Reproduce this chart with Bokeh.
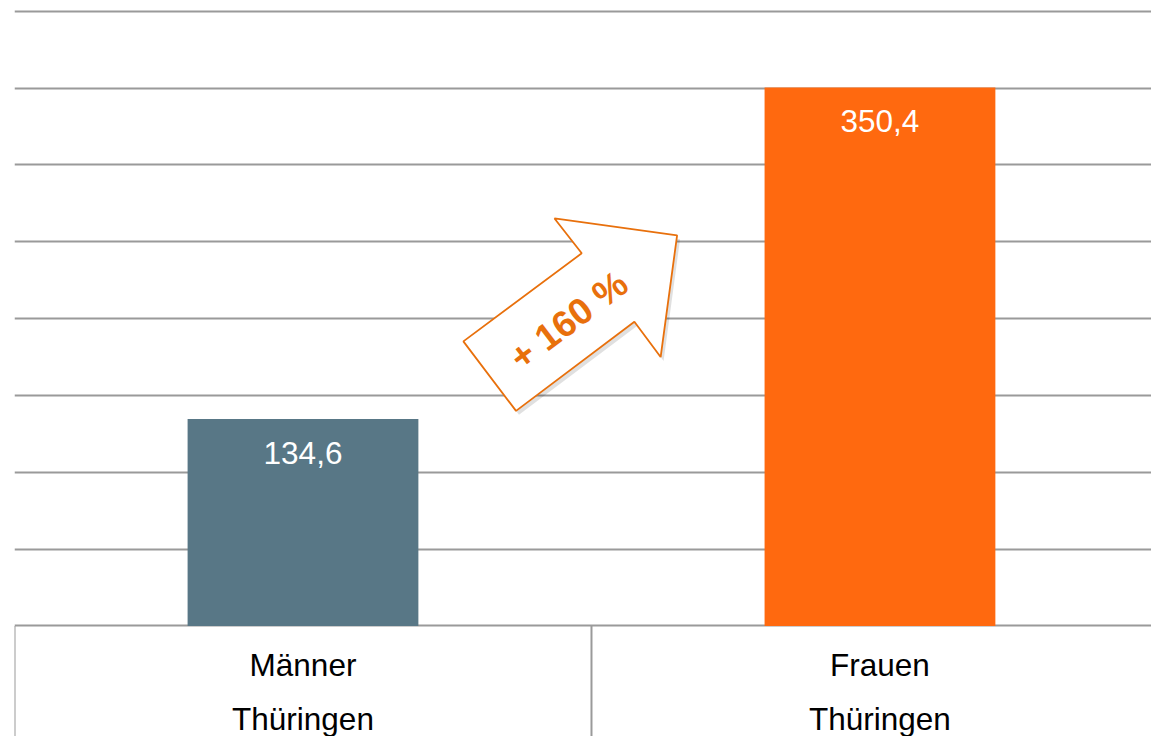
import math
from bokeh.plotting import figure
from bokeh.models import Range1d, FixedTicker
from bokeh.core.properties import value
from bokeh.embed import file_html
from bokeh.resources import INLINE

# ---- data ----
categories = ["Männer", "Frauen"]
regions = ["Thüringen", "Thüringen"]
values = [134.6, 350.4]
value_labels = ["134,6", "350,4"]
bar_colors = ["#587786", "#FF690F"]
change_label = "+ 160 %"
grid_ticks = [0, 50, 100, 150, 200, 250, 300, 350, 400]

FONT = "Liberation Sans"
ORANGE_DARK = "#E8700C"

# ---- geometry: reference pixel layout scaled to figure size ----
W, H = 1151, 736
SX, SY = W / 1167.0, H / 752.0
FRAME_LEFT = round(14 * SX)
BASE_Y = 639 * SY
PX_PER_CAT = 585.0 * SX
PX_PER_UNIT = (639 - 11) * SY / 400.0
frame_w = W - FRAME_LEFT


def dx(ref_px):
    return (ref_px * SX - FRAME_LEFT) / PX_PER_CAT - 0.5


def dy(ref_py):
    return (BASE_Y - ref_py * SY) / PX_PER_UNIT


xs = list(range(len(categories)))

p = figure(width=W, height=H, output_backend="svg", toolbar_location=None,
           x_range=Range1d(-0.5, -0.5 + frame_w / PX_PER_CAT),
           y_range=Range1d(-(H - BASE_Y) / PX_PER_UNIT, BASE_Y / PX_PER_UNIT),
           min_border=0, min_border_left=FRAME_LEFT)
p.outline_line_color = None
p.background_fill_color = "white"
p.axis.visible = False
p.xgrid.visible = False
p.ygrid.ticker = FixedTicker(ticks=grid_ticks)
p.ygrid.grid_line_color = "#9a9a9a"
p.ygrid.grid_line_width = 2

# bars
p.vbar(x=xs, top=values, bottom=0, width=0.4, fill_color=bar_colors,
       line_color=None)

# value labels inside bars
lab_y = [v - 34.5 * SY / PX_PER_UNIT for v in values]
p.text(x=xs, y=lab_y, text=value_labels, text_color="white",
       text_font=value(FONT), text_font_size="31.5px",
       text_align="center", text_baseline="middle")

# category "table" below baseline
sep_x = [i - 0.5 for i in range(len(categories) + 1)]
p.segment(x0=sep_x, y0=[0] * len(sep_x), x1=sep_x,
          y1=[dy(800)] * len(sep_x), line_color="#9a9a9a", line_width=2)
p.text(x=xs, y=[dy(679)] * len(xs), text=categories, text_color="black",
       text_font=value(FONT), text_font_size="31.5px",
       text_align="center", text_baseline="middle")
p.text(x=xs, y=[dy(734)] * len(xs), text=regions, text_color="black",
       text_font=value(FONT), text_font_size="31.5px",
       text_align="center", text_baseline="middle")

# arrow annotation (reference pixel vertices)
arrow_px = [(469.3, 348.3), (522.7, 419.3), (642.7, 328.3), (669.3, 364.3),
            (686.0, 240.0), (561.7, 222.7), (589.3, 258.3)]
shadow = [(x + 3, y + 4) for x, y in arrow_px]
p.patch([dx(x) for x, _ in shadow], [dy(y) for _, y in shadow],
        fill_color="#000000", fill_alpha=0.12, line_color=None)
p.patch([dx(x) for x, _ in arrow_px], [dy(y) for _, y in arrow_px],
        fill_color="white", line_color=ORANGE_DARK, line_width=1.8)
ang = math.atan2(384 - 240, 686 - 496)
p.text(x=[dx(576)], y=[dy(327)], text=[change_label], angle=ang,
       text_color=ORANGE_DARK, text_font=value(FONT), text_font_size="37px",
       text_font_style="bold", text_align="center", text_baseline="middle")

open("out.html", "w").write(file_html(p, INLINE))
